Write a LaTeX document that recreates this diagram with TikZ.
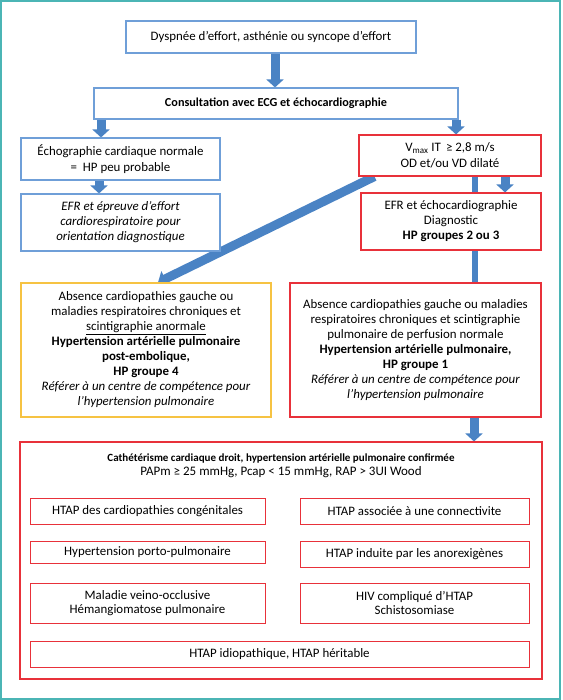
\documentclass[tikz,border=0pt]{standalone}
\usepackage{fontspec}
\setmainfont{Carlito}
\usetikzlibrary{arrows.meta,backgrounds}
\definecolor{arrowblue}{HTML}{4A83C4}
\definecolor{boxblue}{HTML}{6F9FD8}
\definecolor{boxred}{HTML}{E8313A}
\definecolor{boxgold}{HTML}{F6C343}
\definecolor{frameteal}{HTML}{4BB5B5}
\begin{document}
\begin{tikzpicture}[x=1pt, y=-1pt,
    box/.style={draw, line width=1.1pt, fill=white, align=center, inner sep=0pt, font=\fontsize{12.9}{15}\selectfont},
    bluebox/.style={box, draw=boxblue},
    redbox/.style={box, draw=boxred},
    goldbox/.style={box, draw=boxgold},
    subbox/.style={redbox, line width=1pt, font=\fontsize{12.9}{14}\selectfont},
    flow/.style={arrowblue, line width=9pt, -{Triangle[width=17pt,length=8pt]}},
    bar/.style={arrowblue, line width=6.5pt}]
  \useasboundingbox (0,0) rectangle (562,700);
  \draw[frameteal, line width=1.5pt] (1,1) rectangle (560,699);
  \node (1) at (271,37) [bluebox, minimum width=290pt, minimum height=32pt] {Dyspnée d’effort, asthénie ou syncope d’effort};
  \node (2) at (276,103.5) [bluebox, minimum width=364pt, minimum height=31pt, font=\fontsize{12.2}{15}\selectfont] {\textbf{Consultation avec ECG et échocardiographie}};
  \node (3) at (120.5,159) [bluebox, minimum width=199pt, minimum height=42pt, font=\fontsize{12.9}{16}\selectfont] {Échographie cardiaque normale\\=\ \ HP peu probable};
  \node (4) at (120.5,222.5) [bluebox, minimum width=199pt, minimum height=57pt] {\textit{EFR et épreuve d’effort}\\\textit{cardiorespiratoire pour}\\\textit{orientation diagnostique}};
  \node (5) at (450,155.5) [redbox, minimum width=182pt, minimum height=41pt, font=\fontsize{12.9}{16}\selectfont] {V\textsubscript{max} IT\, ≥ 2,8 m/s\\OD et/ou VD dilaté};
  \node (6) at (451,221.5) [redbox, minimum width=180pt, minimum height=57pt] {EFR et échocardiographie\\Diagnostic\\\textbf{HP groupes 2 ou 3}};
  \node (7) at (146,350) [goldbox, minimum width=250pt, minimum height=134pt] {Absence cardiopathies gauche ou\\maladies respiratoires chroniques et\\\underline{scintigraphie anormale}\\\textbf{Hypertension artérielle pulmonaire}\\\textbf{post-embolique,}\\\textbf{HP groupe 4}\\\textit{Référer à un centre de compétence pour}\\\textit{l’hypertension pulmonaire}};
  \node (8) at (415.5,350) [redbox, minimum width=251pt, minimum height=134pt] {Absence cardiopathies gauche ou maladies\\respiratoires chroniques et scintigraphie\\pulmonaire de perfusion normale\\\textbf{Hypertension artérielle pulmonaire,}\\\textbf{HP groupe 1}\\\textit{Référer à un centre de compétence pour}\\\textit{l’hypertension pulmonaire}};
  \node (9) at (281,560.5) [redbox, minimum width=522pt, minimum height=237pt] {};
  \node (10) at (281,466) [align=center, font=\fontsize{13}{14}\selectfont] {{\fontsize{11}{14}\selectfont\textbf{Cathétérisme cardiaque droit, hypertension artérielle pulmonaire confirmée}}\\PAPm ≥ 25 mmHg, Pcap < 15 mmHg, RAP > 3UI Wood};
  \node (11) at (147.5,511) [subbox, minimum width=235pt, minimum height=26pt] {HTAP des cardiopathies congénitales};
  \node (12) at (414.5,511) [subbox, minimum width=229pt, minimum height=26pt] {HTAP associée à une connectivite};
  \node (13) at (147.5,552) [subbox, minimum width=235pt, minimum height=22pt] {Hypertension porto-pulmonaire};
  \node (14) at (414.5,554) [subbox, minimum width=229pt, minimum height=26pt] {HTAP induite par les anorexigènes};
  \node (15) at (147.5,603) [subbox, minimum width=235pt, minimum height=40pt] {Maladie veino-occlusive\\Hémangiomatose pulmonaire};
  \node (16) at (414.5,603) [subbox, minimum width=229pt, minimum height=40pt] {HIV compliqué d’HTAP\\Schistosomiase};
  \node (17) at (279.5,654) [subbox, minimum width=499pt, minimum height=26pt] {HTAP idiopathique, HTAP héritable};
  \begin{scope}[on background layer]
    \foreach \source/\dest/\col in {1/2/275, 2/3/101, 2/5/456, 3/4/99, 5/6/505, 8/9/474}
      \draw[flow] (\source.south -| \col,0) -- (\dest.north -| \col,0);
    \draw[bar] (5.south -| 475,0) -- (8.north -| 475,0);
    \draw[flow] ([xshift=16pt]5.south west) -- ([xshift=12pt]7.north);
  \end{scope}
\end{tikzpicture}
\end{document}
